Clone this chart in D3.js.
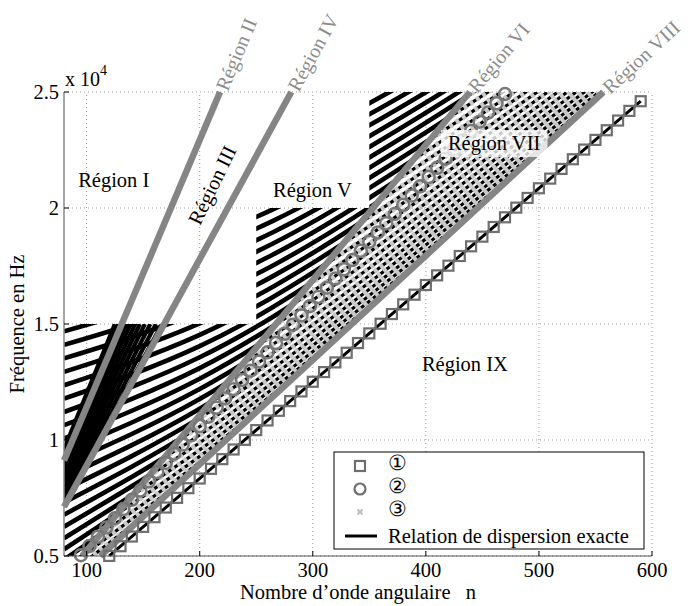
<!DOCTYPE html>
<html><head><meta charset="utf-8">
<script src="https://cdn.jsdelivr.net/npm/d3@7"></script>
<style>
body{margin:0;background:#fff}
</style>
</head><body>
<svg id="c" width="688" height="606" font-family="'Liberation Serif', 'Times New Roman', Times, serif"></svg>
<script>
// ---------- data ----------
const xTicks = [100, 200, 300, 400, 500, 600];
const yTicks = [5000, 10000, 15000, 20000, 25000];
const yTickLabels = ["0.5", "1", "1.5", "2", "2.5"];

// exact dispersion curves (one value per curve at each n of curveN)
const curveN = [80, 200, 350, 600];
const curveF80  = [4052,4420,4835,5286,5764,6263,6778,7306,7845,8392,8945,9505,10069,10637,11208,11782,12359,12938,13518,14100,14684,15269,15855,16442,17030,17619,18208,18798,19389,19980];
const curveF200 = [8652,8830,9045,9294,9573,9882,10216,10574,10953,11351,11766,12197,12642,13098,13567,14045,14532,15027,15530,16039,16554,17075,17602,18132,18667,19206,19748,20293,20842,21393];
const curveF350 = [14775,14880,15008,15160,15333,15527,15742,15977,16230,16501,16790,17094,17414,17749,18097,18458,18831,19216,19611,20017,20432,20857,21290,21730,22178,22634,23096,23564,24038,24517];
const curveF600 = [25125,25187,25264,25354,25458,25575,25706,25851,26008,26178,26361,26556,26763,26982,27212,27453,27706,27969,28244,28527,28821,29124,29436,29756,30083,30420,30763,31116,31480,31855];

// dense steep branches in Région III (f at n=80, n at f=15000)
const denseF80 = [7200,7440,7680,7920,8160,8400,8640,8880,9120,9360,9600];
const denseN15 = [166.7,161.3,156.3,151.5,147.1,142.9,138.9,135.1,131.6,128.2,125.0];

// region boundary lines (gray)
const boundNames = ["Région II", "Région IV", "Région VI", "Région VIII"];
const boundN0 = [80, 80, 96, 112];
const boundF0 = [9120, 7120, 5000, 5000];
const boundN1 = [218, 281, 439, 557];
const boundF1 = [25000, 25000, 25000, 25000];

// staircase upper limit of computed zone
const stairN = [350, 350, 250, 250, 80];
const stairF = [25000, 20000, 20000, 15000, 15000];

// series 1 : squares
const squareN = [120,130,140,150,160,170,180,190,200,210,220,230,240,250,260,270,280,290,300,310,320,330,340,350,360,370,380,390,400,410,420,430,440,450,460,470,480,490,500,510,520,530,540,550,560,570,580,590];
const squareF = [5004,5421,5838,6255,6672,7089,7506,7923,8340,8757,9174,9591,10008,10425,10842,11259,11676,12093,12510,12927,13344,13761,14178,14595,15012,15429,15846,16263,16680,17097,17514,17931,18348,18765,19182,19599,20016,20433,20850,21267,21684,22101,22518,22935,23352,23769,24186,24603];

// series 2 : circles
const circleN = [95,102.5,110,117.5,125,132.5,140,147.5,155,162.5,170,177.5,185,192.5,200,207.5,215,222.5,230,237.5,245,252.5,260,267.5,275,282.5,290,297.5,305,312.5,320,327.5,335,342.5,350,357.5,365,372.5,380,387.5,395,402.5,410,417.5,425,432.5,440,447.5,455,462.5,470];
const circleF = [5035,5433,5830,6228,6625,7023,7420,7818,8215,8613,9010,9408,9805,10203,10600,10998,11395,11793,12190,12588,12985,13383,13780,14178,14575,14973,15370,15768,16165,16563,16960,17358,17755,18153,18550,18948,19345,19743,20140,20538,20935,21333,21730,22128,22525,22923,23320,23718,24115,24513,24910];

// region labels (horizontal)
const labelText = ["Région I", "Région V", "Région VII", "Région IX"];
const labelN = [92.5, 264.8, 419.5, 396.5];
const labelF = [20905, 20474, 22500, 12974];

const legendLabels = ["①", "②", "③", "Relation de dispersion exacte"];

// ---------- drawing ----------
const svg = d3.select("#c");
const x = d3.scaleLinear().domain([80, 600]).range([64, 652]);
const y = d3.scaleLinear().domain([5000, 25000]).range([556, 92]);
const P = p => [x(p[0]), y(p[1])];
const polyStr = pts => pts.map(p => P(p).join(",")).join(" ");
const defs = svg.append("defs");

defs.append("clipPath").attr("id", "plot").append("rect")
  .attr("x", x(80)).attr("y", y(25000)).attr("width", x(600) - x(80)).attr("height", y(5000) - y(25000));

const hatchPoly = [[80, 5000], [boundN0[2], boundF0[2]], [boundN1[2], boundF1[2]]]
  .concat(stairN.map((n, i) => [n, stairF[i]]));
defs.append("clipPath").attr("id", "hatch").append("polygon").attr("points", polyStr(hatchPoly));

const r7Poly = [[boundN0[2], boundF0[2]], [boundN1[2], boundF1[2]], [boundN1[3], boundF1[3]], [boundN0[3], boundF0[3]]];
defs.append("clipPath").attr("id", "r7").append("polygon").attr("points", polyStr(r7Poly));

// grid
const grid = svg.append("g").attr("stroke", "#9a9a9a").attr("stroke-width", 1).attr("stroke-dasharray", "1,3");
xTicks.forEach(t => grid.append("line").attr("x1", x(t)).attr("x2", x(t)).attr("y1", y(5000)).attr("y2", y(25000)));
yTicks.forEach(t => grid.append("line").attr("x1", x(80)).attr("x2", x(600)).attr("y1", y(t)).attr("y2", y(t)));

const line = d3.line().x(d => x(d[0])).y(d => y(d[1])).curve(d3.curveNatural);
const curves = curveF80.map((_, i) => curveN.map((n, j) => [n, [curveF80, curveF200, curveF350, curveF600][j][i]]));

// solid hatch zone
const gH = svg.append("g").attr("clip-path", "url(#plot)").append("g").attr("clip-path", "url(#hatch)");
gH.selectAll("path").data(curves).join("path")
  .attr("d", line).attr("fill", "none").attr("stroke", "#000").attr("stroke-width", 4.6);
gH.selectAll("line.dense").data(denseF80).join("line").attr("class", "dense")
  .attr("x1", d => x(80)).attr("y1", d => y(d))
  .attr("x2", (d, i) => x(denseN15[i])).attr("y2", y(15000))
  .attr("stroke", "#000").attr("stroke-width", 4.2);

// Région VII : curves with series-3 markers over them
const g7 = svg.append("g").attr("clip-path", "url(#plot)").append("g").attr("clip-path", "url(#r7)");
g7.selectAll("path.b").data(curves).join("path").attr("class", "b")
  .attr("d", line).attr("fill", "none").attr("stroke", "#000").attr("stroke-width", 3.2);
g7.selectAll("path.g").data(curves).join("path").attr("class", "g")
  .attr("d", line).attr("fill", "none").attr("stroke", "#c8c8c8").attr("stroke-width", 5.2)
  .attr("stroke-dasharray", "4,3.5");

// gray boundary lines
const gB = svg.append("g");
boundN0.forEach((n0, i) => {
  gB.append("line").attr("x1", x(n0)).attr("y1", y(boundF0[i])).attr("x2", x(boundN1[i])).attr("y2", y(boundF1[i]))
    .attr("stroke", "#858585").attr("stroke-width", 6.5);
});

// circles (series 2)
svg.append("g").selectAll("circle").data(circleN).join("circle")
  .attr("cx", d => x(d)).attr("cy", (d, i) => y(circleF[i])).attr("r", 6)
  .attr("fill", "none").attr("stroke", "#787878").attr("stroke-width", 2.5);

// exact relation line + squares (series 1)
svg.append("line").attr("x1", x(squareN[0])).attr("y1", y(squareF[0]))
  .attr("x2", x(squareN[squareN.length - 1])).attr("y2", y(squareF[squareF.length - 1]))
  .attr("stroke", "#000").attr("stroke-width", 3);
svg.append("g").selectAll("rect").data(squareN).join("rect")
  .attr("x", d => x(d) - 5).attr("y", (d, i) => y(squareF[i]) - 5).attr("width", 10).attr("height", 10)
  .attr("fill", "none").attr("stroke", "#6e6e6e").attr("stroke-width", 2.2);

// rotated gray labels at top of boundary lines
boundN0.forEach((n0, i) => {
  const p0 = P([n0, boundF0[i]]), p1 = P([boundN1[i], boundF1[i]]);
  const ang = Math.atan2(p1[1] - p0[1], p1[0] - p0[0]);
  const deg = ang * 180 / Math.PI;
  const ox = p1[0] + 3 * Math.cos(ang), oy = p1[1] + 3 * Math.sin(ang);
  svg.append("text").text(boundNames[i]).attr("transform", `translate(${ox},${oy}) rotate(${deg})`)
    .attr("dy", "0.35em").attr("font-size", 20).attr("fill", "#8c8c8c");
});

// Région III rotated between II and IV
{
  const p0 = P([boundN0[0], boundF0[0]]), p1 = P([boundN1[0], boundF1[0]]);
  const deg = Math.atan2(p1[1] - p0[1], p1[0] - p0[0]) * 180 / Math.PI;
  const c = P([210.9, 20991]);
  svg.append("text").text("Région III").attr("transform", `translate(${c[0]},${c[1]}) rotate(${deg + 3})`)
    .attr("text-anchor", "middle").attr("dy", "0.35em").attr("font-size", 20.5);
}

// horizontal labels
labelText.forEach((t, i) => {
  const p = P([labelN[i], labelF[i]]);
  const tx = svg.append("text").text(t).attr("x", p[0]).attr("y", p[1]).attr("font-size", 20.5);
  if (t === "Région VII") {
    const bb = tx.node().getBBox();
    svg.insert("rect", () => tx.node()).attr("x", bb.x - 7).attr("y", bb.y - 2)
      .attr("width", bb.width + 14).attr("height", bb.height + 4)
      .attr("fill", "#fff").attr("fill-opacity", 0.78);
  }
});

// axes
svg.append("line").attr("x1", x(80)).attr("x2", x(80)).attr("y1", y(5000)).attr("y2", y(25000))
  .attr("stroke", "#8a8a8a").attr("stroke-width", 1.5);
svg.append("line").attr("x1", x(80)).attr("x2", x(600)).attr("y1", y(5000)).attr("y2", y(5000))
  .attr("stroke", "#555").attr("stroke-width", 1);
xTicks.forEach(t => {
  svg.append("line").attr("x1", x(t)).attr("x2", x(t)).attr("y1", y(5000)).attr("y2", y(5000) - 5).attr("stroke", "#000");
  svg.append("text").text(t).attr("x", x(t)).attr("y", 577).attr("text-anchor", "middle").attr("font-size", 20.5);
});
yTicks.forEach((t, i) => {
  svg.append("line").attr("x1", x(80)).attr("x2", x(80) + 5).attr("y1", y(t)).attr("y2", y(t)).attr("stroke", "#000");
  svg.append("text").text(yTickLabels[i]).attr("x", 59).attr("y", y(t) + 7).attr("text-anchor", "end").attr("font-size", 20.5);
});
const mult = svg.append("text").attr("x", 65).attr("y", 86).attr("font-size", 20);
mult.append("tspan").text("x 10");
mult.append("tspan").text("4").attr("font-size", 14).attr("dy", -11);

svg.append("text").attr("x", 358).attr("y", 599).attr("text-anchor", "middle").attr("font-size", 20.5)
  .attr("xml:space", "preserve").style("white-space", "pre").text("Nombre d\u2019onde angulaire   n");
svg.append("text").attr("transform", "translate(24,324) rotate(-90)").attr("text-anchor", "middle")
  .attr("font-size", 20.5).text("Fréquence en Hz");

// legend
const lg = svg.append("g");
lg.append("rect").attr("x", 334).attr("y", 452).attr("width", 310).attr("height", 97)
  .attr("fill", "#fff").attr("stroke", "#000").attr("stroke-width", 1);
lg.append("rect").attr("x", 355).attr("y", 461).attr("width", 10).attr("height", 10)
  .attr("fill", "none").attr("stroke", "#6e6e6e").attr("stroke-width", 2.2);
lg.append("circle").attr("cx", 360).attr("cy", 489).attr("r", 5.5)
  .attr("fill", "none").attr("stroke", "#6e6e6e").attr("stroke-width", 2.2);
lg.append("path").attr("d", "M357.5,509.5L362.5,514.5M362.5,509.5L357.5,514.5")
  .attr("stroke", "#bdbdbd").attr("stroke-width", 2);
lg.append("line").attr("x1", 345).attr("x2", 377).attr("y1", 536).attr("y2", 536)
  .attr("stroke", "#000").attr("stroke-width", 3);
const legY = [470, 493, 516, 543];
legendLabels.forEach((t, i) => {
  lg.append("text").text(t).attr("x", 388).attr("y", legY[i]).attr("font-size", 20.5);
});
</script>
</body></html>
